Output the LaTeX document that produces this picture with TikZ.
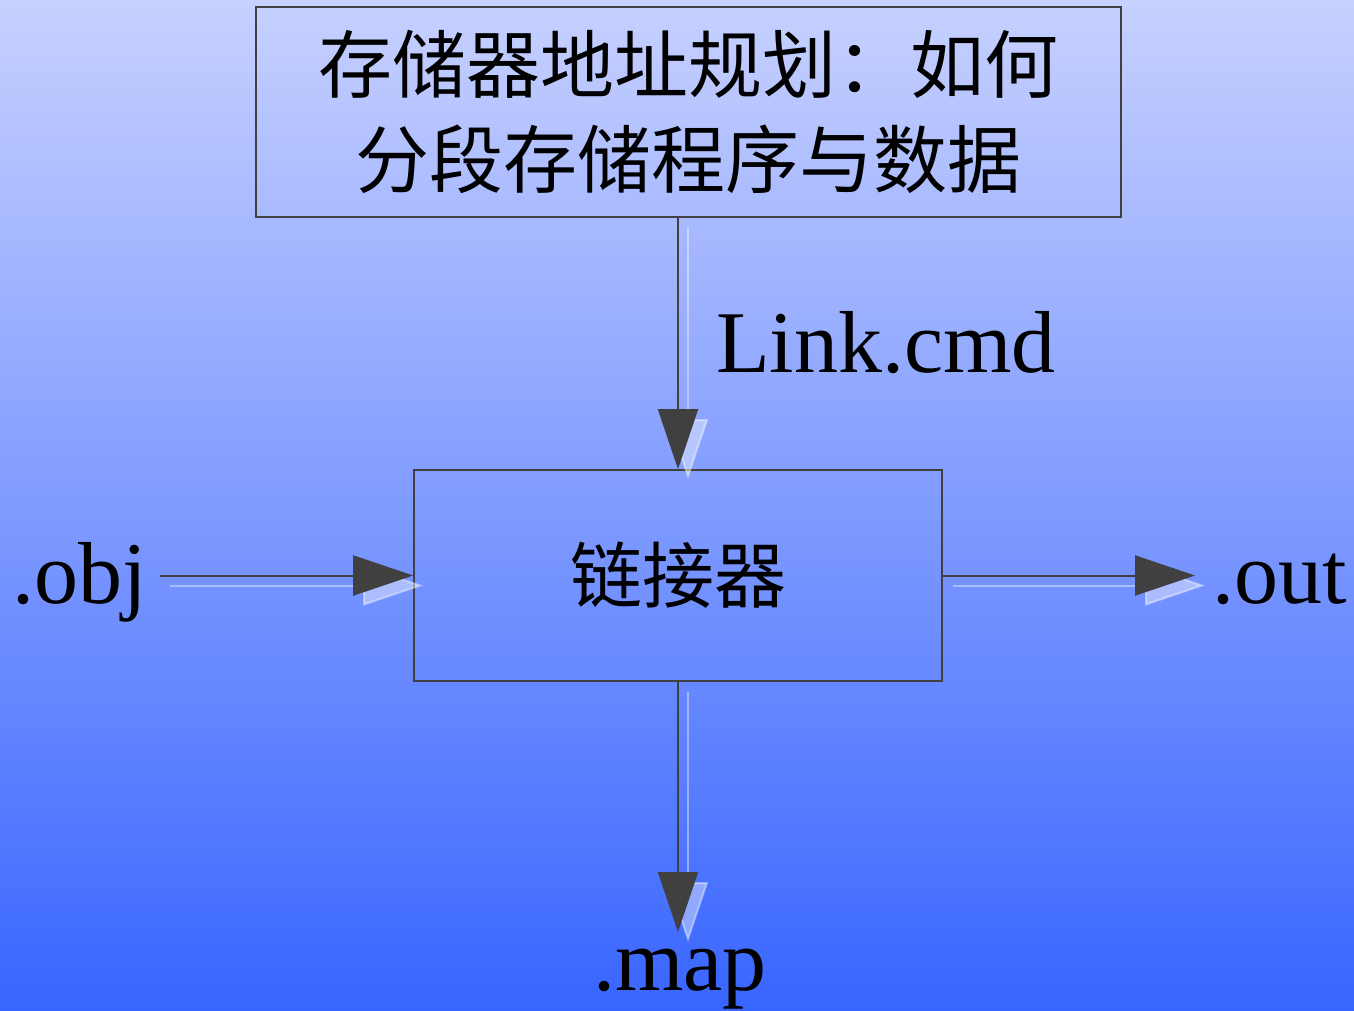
\documentclass[tikz,border=0pt]{standalone}
\usepackage{fontspec}
\setmainfont{Liberation Serif}
\newfontfamily\cjk{Noto Sans CJK SC}
\usetikzlibrary{arrows.meta}
\definecolor{bgtop}{RGB}{199,209,255}
\definecolor{bgbot}{RGB}{56,101,255}
\definecolor{ink}{RGB}{64,64,64}
\begin{document}
\begin{tikzpicture}[x=1pt,y=-1pt,
  box/.style={draw=ink, line width=1.6pt, inner sep=0pt},
  conn/.style={draw=ink, line width=2pt, -{Triangle[length=60pt,width=40pt]}},
  shadowline/.style={draw=white, draw opacity=.4, fill opacity=.4, line width=2pt,
                     -{Triangle[length=60pt,width=40pt]}},
  lbl/.style={font=\fontsize{88}{100}\selectfont, inner sep=0pt},
]
\shade[top color=bgtop, bottom color=bgbot] (0,0) rectangle (1354,1011);
\useasboundingbox (0,0) rectangle (1354,1011);

\node[box, minimum width=865pt, minimum height=210pt, align=center,
      font=\cjk\fontsize{74}{95}\selectfont] (plan) at (688.5,112)
      {存储器地址规划：如何\\分段存储程序与数据};
\node[box, minimum width=528pt, minimum height=211pt,
      font=\cjk\fontsize{72}{80}\selectfont] (linker) at (678,575.5) {链接器};

\node[lbl, anchor=base west] (obj) at (12,603) {.obj};
\node[lbl, anchor=base west] (out) at (1212,603) {.out};
\node[lbl, anchor=base] (map) at (680,990) {.map};
\node[lbl, anchor=base west] (cmd) at (716,372) {Link.cmd};

\coordinate (objtail) at (160,575.5);
\coordinate (outtip) at (1195,575.5);
\coordinate (maptip) at (678,932);

\begin{scope}[transform canvas={shift={(10,10)}}]
  \draw[shadowline] (plan.south -| linker.north) -- (linker.north);
  \draw[shadowline] (objtail) -- (linker.west);
  \draw[shadowline] (linker.east) -- (outtip);
  \draw[shadowline] (linker.south) -- (maptip);
\end{scope}

\draw[conn] (plan.south -| linker.north) -- (linker.north);
\draw[conn] (objtail) -- (linker.west);
\draw[conn] (linker.east) -- (outtip);
\draw[conn] (linker.south) -- (maptip);
\end{tikzpicture}
\end{document}
